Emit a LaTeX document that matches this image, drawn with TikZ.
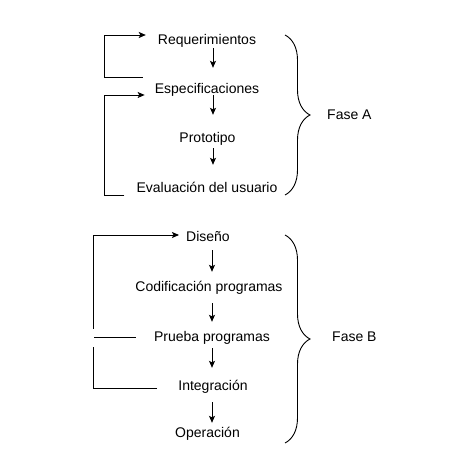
\documentclass[tikz,border=0pt]{standalone}
\usepackage{fontspec}
\setmainfont{Liberation Sans}
\usetikzlibrary{arrows.meta}
\usetikzlibrary{decorations.pathreplacing}
\tikzset{
    stage_node/.style = {align=center, inner sep=0pt, text height=11pt, text depth=1pt, font=\fontsize{14}{16}\selectfont},
    phase_node/.style = {stage_node, anchor=west},
    flow/.style = {->, line width=0.9pt},
    back_line/.style = {-, line width=0.9pt},
    phase_brace/.style = {decorate, decoration={brace, amplitude=25pt}, line width=0.9pt}
}

\begin{document}
\begin{tikzpicture}[x=1pt, y=1pt, >={Stealth[length=7pt, width=6pt, inset=1.5pt]}]
    \useasboundingbox (0,0) rectangle (450,456);
    \coordinate (ax) at (213,0);
    \coordinate (bx) at (212,0);

    % fase A
    \node [stage_node] (req) at (207,416) {Requerimientos};
    \node [stage_node] (esp) at (207,367) {Especificaciones};
    \node [stage_node] (pro) at (207.5,318) {Prototipo};
    \node [stage_node] (eva) at (207,268) {Evaluación del usuario};

    \draw [flow, shorten <=2pt, shorten >=15pt] (req.south -| ax) -- (esp.north -| ax);
    \draw [flow, shorten >=17pt] (esp.south -| ax) -- (pro.north -| ax);
    \draw [flow, shorten <=4pt, shorten >=17pt] (pro.south -| ax) -- (eva.north -| ax);

    \draw [flow] ([xshift=-12pt, yshift=12pt]esp.west) -| ([xshift=-53pt, yshift=5pt]req.west)
        -- ([xshift=-12pt, yshift=5pt]req.west);
    \draw [flow] ([xshift=-12pt, yshift=-7pt]eva.west) -| ([xshift=-50pt, yshift=-6pt]esp.west)
        -- ([xshift=-10pt, yshift=-6pt]esp.west);

    \draw [phase_brace] (285,421) -- (285,261);
    \node [phase_node] (faseA) at (327,341) {Fase A};

    % fase B
    \node [stage_node] (dis) at (208,219) {Diseño};
    \node [stage_node] (cod) at (209,169) {Codificación programas};
    \node [stage_node] (pru) at (212,119) {Prueba programas};
    \node [stage_node] (int) at (213,70) {Integración};
    \node [stage_node] (ope) at (207.5,23) {Operación};

    \draw [flow, shorten <=7pt, shorten >=9pt] (dis.south -| bx) -- (cod.north -| bx);
    \draw [flow, shorten <=10pt, shorten >=9pt] (cod.south -| bx) -- (pru.north -| bx);
    \draw [flow, shorten <=5pt, shorten >=12pt] (pru.south -| bx) -- (int.north -| bx);
    \draw [flow, shorten <=10pt, shorten >=4pt] (int.south -| bx) -- (ope.north -| bx);

    \draw [back_line] ([xshift=-18pt]pru.west) -- ([xshift=-60pt]pru.west);
    \draw [back_line] ([xshift=-21pt, yshift=-2pt]int.west) -| ([xshift=-60pt, yshift=-10pt]pru.west);
    \draw [flow] ([xshift=-60pt, yshift=8pt]pru.west) |- ([xshift=-7pt, yshift=2pt]dis.west);

    \draw [phase_brace] (285,221) -- (285,13);
    \node [phase_node] (faseB) at (332,119) {Fase B};
\end{tikzpicture}
\end{document}
